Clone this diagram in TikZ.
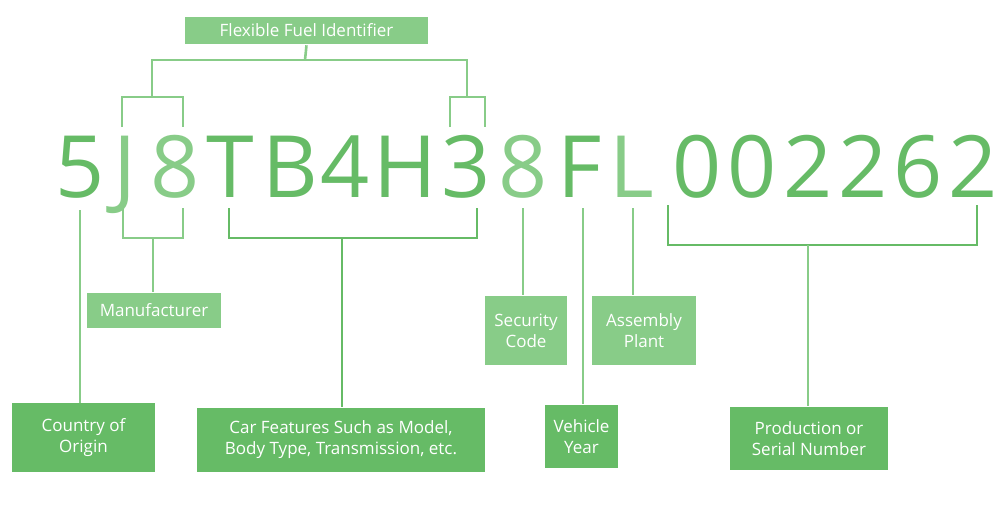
\documentclass[tikz,border=0pt]{standalone}
\usepackage{fontspec}
\setmainfont{Open Sans}
\begin{document}
\begin{tikzpicture}[x=1pt,y=-1pt,
  line width=2.6pt,
  dk/.style={draw=none,fill=dkg,text=white,align=center,font=\fontsize{17}{21}\selectfont,inner sep=0pt},
  lt/.style={dk,fill=ltg},
  ch/.style={anchor=base,inner sep=0pt,font=\fontsize{86}{90}\selectfont},
  dl/.style={draw=dkg},
  ll/.style={draw=ltg}]
\definecolor{dkg}{RGB}{102,187,102}
\definecolor{ltg}{RGB}{136,204,136}
\useasboundingbox (0,0) rectangle (1000,532);
% characters
\foreach \c/\x/\col in {5/80/dkg,J/125/ltg,8/175/ltg,T/230/dkg,B/290/dkg,4/345/dkg,H/405/dkg,3/466/dkg,8/523/ltg,F/580/dkg,L/632/ltg,0/697/dkg,0/752/dkg,2/808/dkg,2/863/dkg,6/918/dkg,2/973/dkg}
  \node[ch,text=\col] (c\x) at (\x,197) {\c};
% boxes
\node[lt,minimum width=243pt,minimum height=27pt] (flex) at (306.5,30.5) {Flexible Fuel Identifier};
\node[dk,minimum width=143pt,minimum height=69pt] (country) at (83.5,437.5) {Country of\\Origin};
\node[lt,minimum width=134pt,minimum height=35pt] (manu) at (154,310.5) {Manufacturer};
\node[dk,minimum width=288pt,minimum height=64pt] (car) at (341,440) {Car Features Such as Model,\\Body Type, Transmission, etc.};
\node[lt,minimum width=82pt,minimum height=69pt] (sec) at (526,330.5) {Security\\Code};
\node[dk,minimum width=73pt,minimum height=63pt] (veh) at (581.5,436.5) {Vehicle\\Year};
\node[lt,minimum width=104pt,minimum height=69pt] (asm) at (644,330.5) {Assembly\\Plant};
\node[dk,minimum width=158pt,minimum height=63pt] (ser) at (809,438.5) {Production or\\Serial Number};
% top brackets
\draw[ll] (flex.south) -- (305,60);
\draw[ll] (152,97) -- (152,60) -- (467,60) -- (467,97);
\draw[ll] (122,127) -- (122,97) -- (183,97) -- (183,127);
\draw[ll] (450,127) -- (450,97) -- (485,97) -- (485,127);
% bottom
\draw[ll] (80,210) -- (80,403) coordinate (cty);
\draw[ll] (cty) -- (country.north -| cty);
\draw[ll] (123,208) -- (123,238) -- (183,238) -- (183,208);
\draw[ll] (153,238) -- (manu.north -| 153,0);
\draw[dl] (229,208) -- (229,238) -- (477,238) -- (477,208);
\draw[dl] (342,238) -- (car.north -| 342,0);
\draw[ll] (523,208) -- (sec.north -| 523,0);
\draw[ll] (583,208) -- (veh.north -| 583,0);
\draw[ll] (633,208) -- (asm.north -| 633,0);
\draw[dl] (668,205) -- (668,245) -- (977,245) -- (977,205);
\draw[ll] (808,245) -- (ser.north -| 808,0);
\end{tikzpicture}
\end{document}
